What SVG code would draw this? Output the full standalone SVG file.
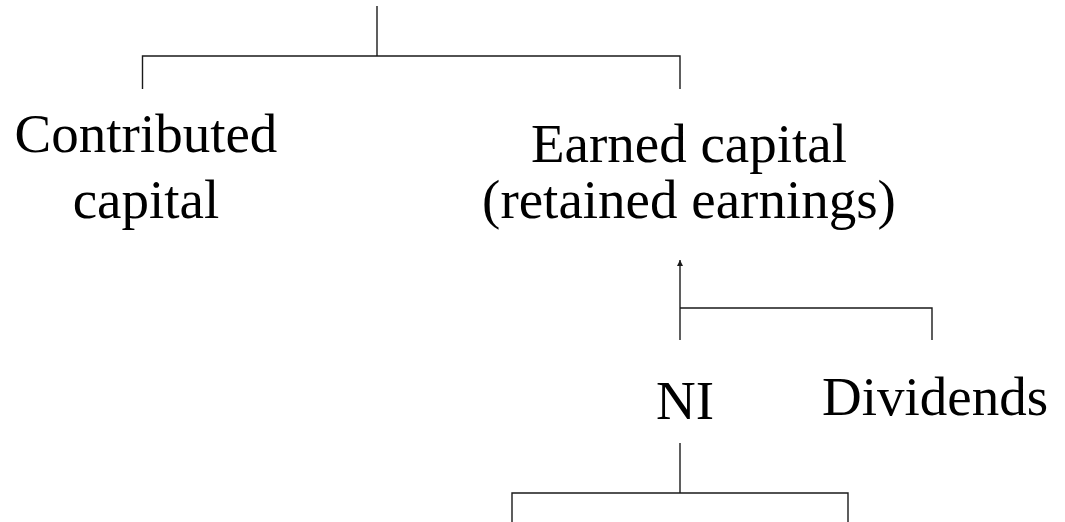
<svg xmlns="http://www.w3.org/2000/svg" width="1065" height="522" viewBox="0 0 1065 522">
  <style>
    .ln { stroke: #1a1a1a; stroke-width: 1.4; fill: none; }
    .lbl { font-family: "Liberation Serif", "Times New Roman", serif; font-size: 55px; fill: #000; text-anchor: middle; }
  </style>
  <defs>
    <marker id="arrow" viewBox="0 0 10 10" refX="10" refY="5" markerWidth="4.5" markerHeight="4.5" orient="auto" markerUnits="strokeWidth">
      <path d="M0,0 L10,5 L0,10 z" fill="#1a1a1a"/>
    </marker>
  </defs>
  <rect width="1065" height="522" fill="#fff"/>

  <g id="connectors">
    <!-- top split: equity into contributed / earned -->
    <path class="ln" d="M377,6 V56"/>
    <path class="ln" d="M142.5,89 V56 H680 V89"/>
    <!-- NI and dividends feeding earned capital -->
    <path class="ln" d="M680,340 V260" marker-end="url(#arrow)"/>
    <path class="ln" d="M680,308 H932 V340"/>
    <!-- NI split -->
    <path class="ln" d="M680,443 V493"/>
    <path class="ln" d="M512,522 V493 H848 V522"/>
  </g>

  <g id="contributed">
    <text class="lbl" x="146" y="152">Contributed</text>
    <text class="lbl" x="146" y="218">capital</text>
  </g>
  <g id="earned">
    <text class="lbl" x="689" y="162">Earned capital</text>
    <text class="lbl" x="689" y="218">(retained earnings)</text>
  </g>
  <g id="ni">
    <text class="lbl" x="685" y="419">NI</text>
  </g>
  <g id="dividends">
    <text class="lbl" x="935" y="415">Dividends</text>
  </g>
</svg>
